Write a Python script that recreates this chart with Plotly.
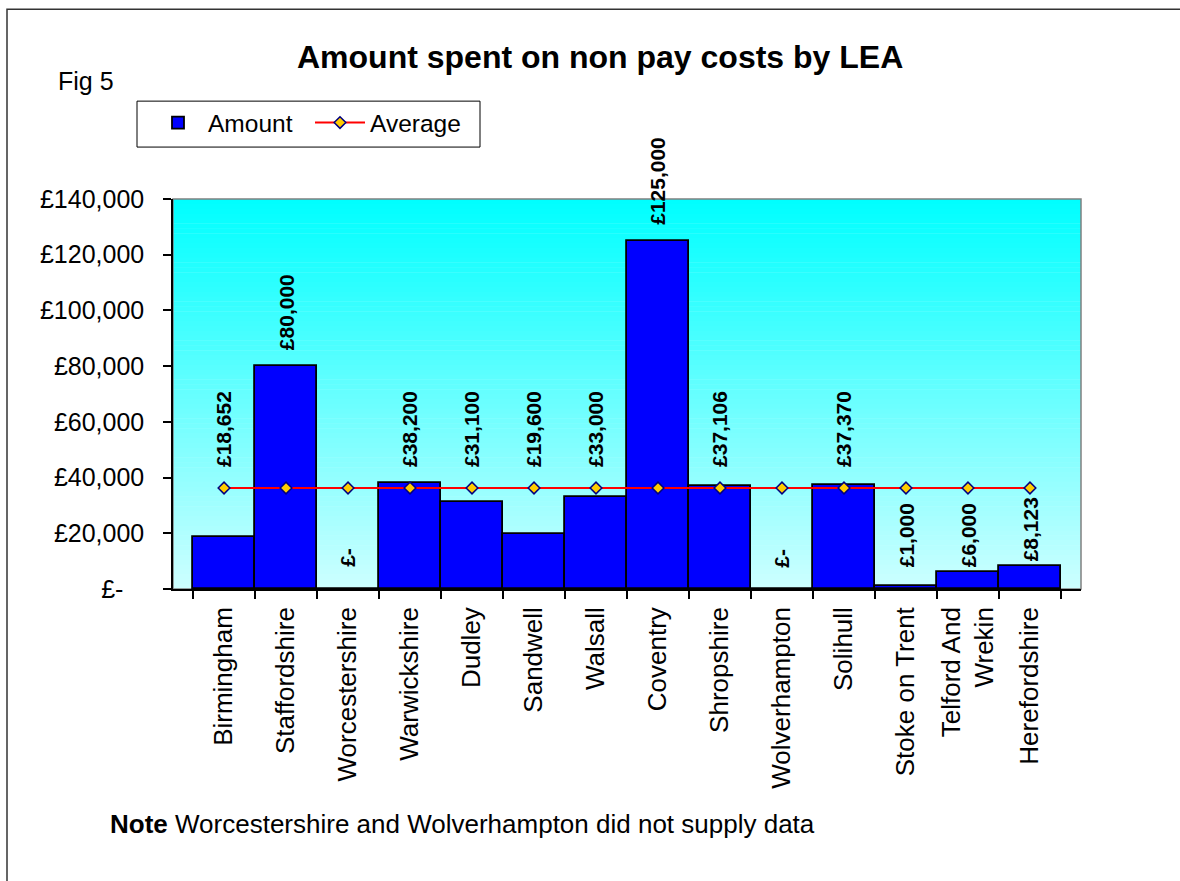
import plotly.graph_objects as go

# ---------------- data ----------------
categories = ["Birmingham", "Staffordshire", "Worcestershire", "Warwickshire", "Dudley",
              "Sandwell", "Walsall", "Coventry", "Shropshire", "Wolverhampton",
              "Solihull", "Stoke on Trent", "Telford And<br>Wrekin", "Herefordshire"]
amounts = [18652, 80000, 0, 38200, 31100, 19600, 33000, 125000, 37106, 0, 37370, 1000, 6000, 8123]
average_value = 36263  # average of the 12 LEAs that supplied data
averages = [average_value] * len(categories)
y_tickvals = [0, 20000, 40000, 60000, 80000, 100000, 120000, 140000]
y_ticktext = ["£-\u00a0\u00a0\u00a0", "£20,000", "£40,000", "£60,000", "£80,000",
              "£100,000", "£120,000", "£140,000"]

FONT = "Arial, Liberation Sans, sans-serif"
W, H = 1180, 881
L, R, T, B = 173, 99, 199, 291.5
plot_w = W - L - R
plot_h = H - T - B


def px_x(px):
    return (px - L) / plot_w


def px_y(py):
    return (H - B - py) / plot_h


def fmt(v):
    return "£-" if v == 0 else "£{:,}".format(v)


fig = go.Figure()

fig.add_trace(go.Bar(
    x=categories, y=amounts, name="Amount",
    marker=dict(color="#0000FF", line=dict(color="#000000", width=1.8)),
))
fig.add_trace(go.Scatter(
    x=categories, y=averages, name="Average", mode="lines+markers",
    line=dict(color="#FF0000", width=2),
    marker=dict(symbol="diamond", size=9, color="#FFCC00",
                line=dict(color="#000080", width=1.5)),
))

# gradient background of plot area
shapes = []
n_bands = 80
top_c = (0, 255, 255)
bot_c = (204, 255, 255)
for i in range(n_bands):
    f = i / (n_bands - 1)
    c = tuple(round(top_c[k] + (bot_c[k] - top_c[k]) * f) for k in range(3))
    shapes.append(dict(type="rect", xref="x domain", yref="y domain",
                       x0=0, x1=1, y1=1 - i / n_bands, y0=1 - (i + 1) / n_bands - 0.001,
                       fillcolor="rgb(%d,%d,%d)" % c, line=dict(width=0), layer="below"))
# plot area border (grey top/right)
shapes.append(dict(type="rect", xref="x domain", yref="y domain", x0=0, x1=1, y0=0, y1=1,
                   line=dict(color="#808080", width=1.5), layer="below"))
# outer chart border
shapes.append(dict(type="rect", xref="paper", yref="paper",
                   x0=px_x(7), x1=px_x(1200), y0=px_y(900), y1=px_y(9),
                   line=dict(color="#333333", width=1.5)))
# legend frame
shapes.append(dict(type="rect", xref="paper", yref="paper",
                   x0=px_x(137), x1=px_x(480), y0=px_y(147), y1=px_y(101),
                   fillcolor="#FFFFFF", line=dict(color="#000000", width=1)))

annotations = []
# data labels
for cat, v in zip(categories, amounts):
    if v >= average_value + 6000:
        y, ys = v, 14
    elif v >= 10000:
        y, ys = average_value, 19
    else:
        y, ys = max(v, 6000), 3
    annotations.append(dict(x=cat, y=y, xref="x", yref="y", text=fmt(v), showarrow=False,
                            textangle=-90, yanchor="bottom", yshift=ys,
                            font=dict(family=FONT, size=21, color="#000000", weight="bold")))

annotations.append(dict(xref="paper", yref="paper", x=px_x(600), y=px_y(57),
                        text="<b>Amount spent on non pay costs by LEA</b>", showarrow=False,
                        xanchor="center", yanchor="middle",
                        font=dict(family=FONT, size=32, color="#000000")))
annotations.append(dict(xref="paper", yref="paper", x=px_x(56), y=px_y(81),
                        text="Fig 5", showarrow=False, xanchor="left", yanchor="middle",
                        font=dict(family=FONT, size=25, color="#000000")))
annotations.append(dict(xref="paper", yref="paper", x=px_x(108), y=px_y(825),
                        text="<b>Note</b> Worcestershire and Wolverhampton did not supply data",
                        showarrow=False, xanchor="left", yanchor="middle",
                        font=dict(family=FONT, size=26, color="#000000")))

fig.update_layout(
    width=W, height=H,
    margin=dict(l=L, r=R, t=T, b=B, autoexpand=False),
    paper_bgcolor="#FFFFFF", plot_bgcolor="#CCFFFF",
    bargap=0,
    showlegend=True,
    legend=dict(orientation="h", x=px_x(148), y=px_y(100), xanchor="left", yanchor="top",
                bgcolor="rgba(0,0,0,0)", borderwidth=0, entrywidth=97, itemwidth=50,
                font=dict(family=FONT, size=24.5, color="#000000"),
                traceorder="normal"),
    shapes=shapes,
    annotations=annotations,
    xaxis=dict(type="category", showgrid=False, showline=True, linecolor="#000000", linewidth=1.5,
               ticks="outside", ticklen=8, tickcolor="#000000", tickwidth=1.5,
               tickson="boundaries", tickangle=-90,
               tickfont=dict(family=FONT, size=26, color="#000000"),
               ticklabelstandoff=6, zeroline=False),
    yaxis=dict(range=[0, 140000], tickvals=y_tickvals, ticktext=y_ticktext,
               showgrid=False, showline=True, linecolor="#000000", linewidth=1.5,
               ticks="outside", ticklen=8, tickcolor="#000000", tickwidth=1.5,
               tickfont=dict(family=FONT, size=25, color="#000000"),
               ticklabelstandoff=14, zeroline=False),
)

fig.write_html("out.html", config={"displayModeBar": False},
               post_script="document.body.style.margin='0';document.body.style.overflow='hidden';")
